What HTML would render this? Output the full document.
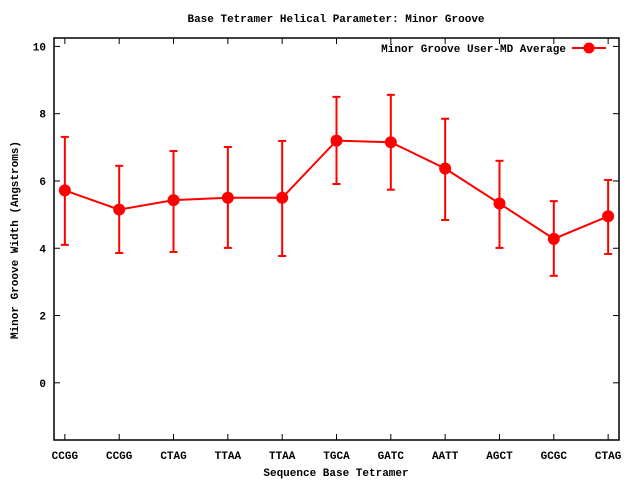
<!DOCTYPE html>
<html><head><meta charset="utf-8"><style>
body{margin:0;background:#fff;}
svg text{font-family:"Liberation Mono","DejaVu Sans Mono",monospace;font-weight:bold;font-size:11px;fill:#000;}
</style></head><body>
<svg id="chart" width="640" height="480" xmlns="http://www.w3.org/2000/svg">
<rect width="640" height="480" fill="#fff"/>
<text x="336" y="22" text-anchor="middle">Base Tetramer Helical Parameter: Minor Groove</text>
<text x="336" y="476" text-anchor="middle">Sequence Base Tetramer</text>
<text transform="translate(18,240) rotate(-90)" text-anchor="middle">Minor Groove Width (Angstroms)</text>
<g id="axes"></g>
<g id="marks"></g>
<g>
<text x="566" y="52" text-anchor="end">Minor Groove User-MD Average</text>
<line x1="572" y1="48" x2="606" y2="48" stroke="#f00" stroke-width="2"/>
<circle cx="589" cy="48" r="5.5" fill="#f00"/>
</g>
</svg>
<script>
const categories=["CCGG","CCGG","CTAG","TTAA","TTAA","TGCA","GATC","AATT","AGCT","GCGC","CTAG"];
const means=[5.72,5.15,5.43,5.5,5.5,7.2,7.15,6.37,5.33,4.28,4.95];
const upper=[7.31,6.45,6.89,7.01,7.19,8.5,8.56,7.85,6.6,5.4,6.03];
const lower=[4.1,3.86,3.89,4.01,3.77,5.91,5.74,4.84,4.01,3.18,3.83];
const yTicks=[0,2,4,6,8,10];
const L=54,R=619,T=38,B=440;
const xMin=-0.2,xMax=10.2,yMin=-1.7,yMax=10.25;
function sx(i){return L+(i-xMin)/(xMax-xMin)*(R-L);}
function sy(v){return B-(v-yMin)/(yMax-yMin)*(B-T);}
const NS="http://www.w3.org/2000/svg";
function mk(tag,attrs,parent){const e=document.createElementNS(NS,tag);for(const k in attrs)e.setAttribute(k,attrs[k]);parent.appendChild(e);return e;}
const axes=document.getElementById('axes'),marks=document.getElementById('marks');
const frame=mk('rect',{x:L,y:T,width:R-L,height:B-T,fill:'none',stroke:'#000','stroke-width':1.5},axes);


yTicks.forEach(v=>{
  const y=sy(v);
  const t=mk('line',{x1:L,y1:y,x2:L+6,y2:y,stroke:'#000'},axes);
  
  
  const t2=mk('line',{x1:R,y1:y,x2:R-6,y2:y,stroke:'#000'},axes);
  
  
  const lb=mk('text',{x:L-8,y:y+4,'text-anchor':'end'},axes);
  lb.textContent=v;
  
  
});
categories.forEach((c,i)=>{
  const x=sx(i);
  const t=mk('line',{x1:x,y1:B,x2:x,y2:B-6,stroke:'#000'},axes);
  
  
  const t2=mk('line',{x1:x,y1:T,x2:x,y2:T+6,stroke:'#000'},axes);
  
  
  const lb=mk('text',{x:x,y:B+19,'text-anchor':'middle'},axes);
  lb.textContent=c;
  
  
});
const line=mk('polyline',{points:means.map((v,i)=>sx(i)+','+sy(v)).join(' '),fill:'none',stroke:'#f00','stroke-width':2},marks);


means.forEach((v,i)=>{
  const x=sx(i);
  const g=mk('g',{},marks);
  
  
  mk('line',{x1:x,y1:sy(upper[i]),x2:x,y2:sy(lower[i]),stroke:'#f00','stroke-width':2},g);
  mk('line',{x1:x-4,y1:sy(upper[i]),x2:x+4,y2:sy(upper[i]),stroke:'#f00','stroke-width':2},g);
  mk('line',{x1:x-4,y1:sy(lower[i]),x2:x+4,y2:sy(lower[i]),stroke:'#f00','stroke-width':2},g);
  const p=mk('circle',{cx:x,cy:sy(v),r:6,fill:'#f00'},marks);
  
  
});
</script>
</body></html>
